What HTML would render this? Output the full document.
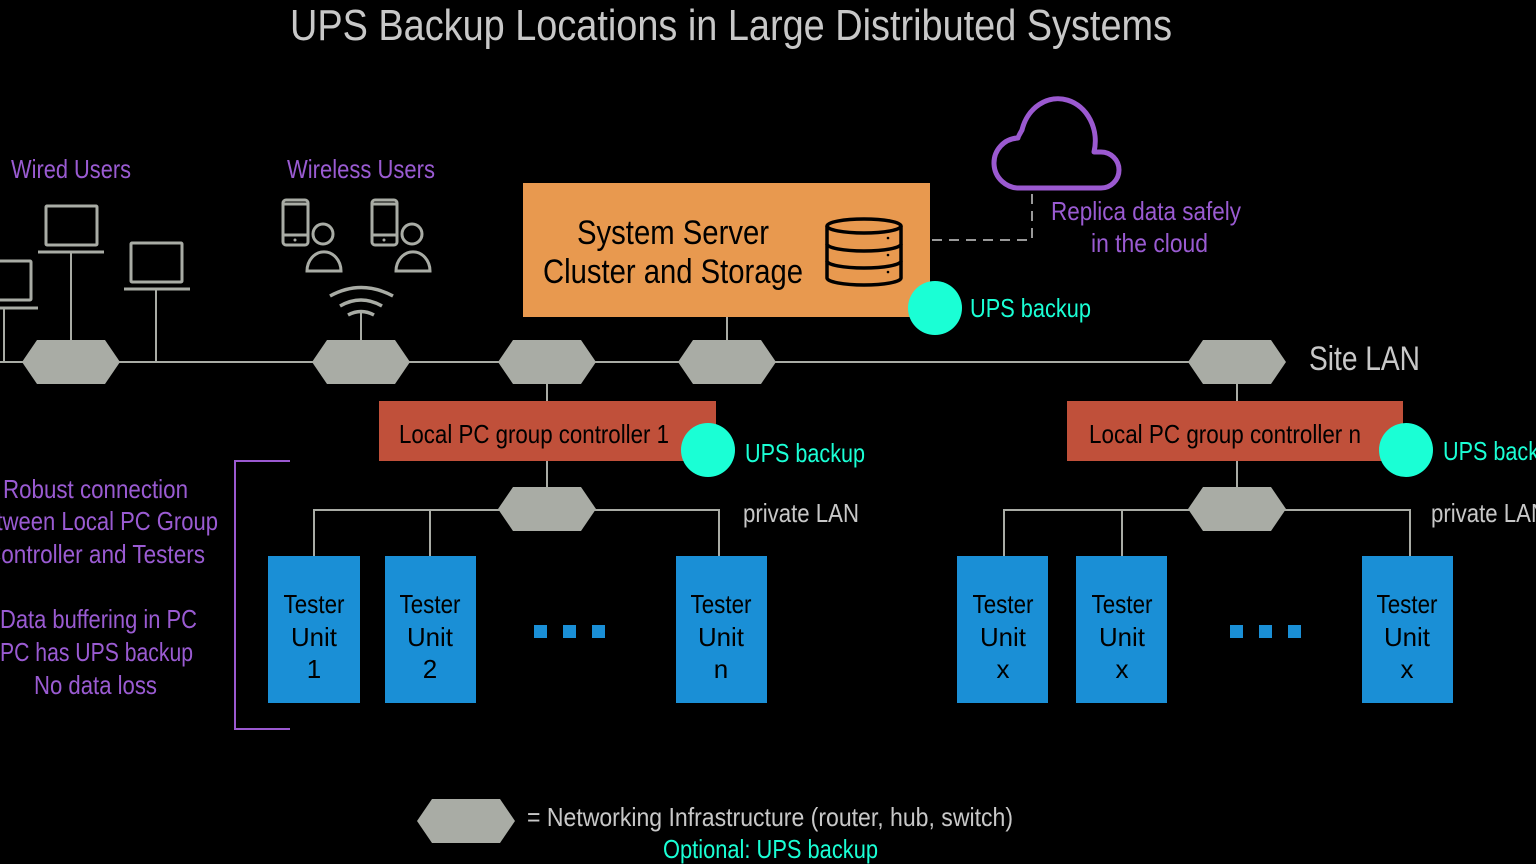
<!DOCTYPE html>
<html><head><meta charset="utf-8"><style>
html,body{margin:0;padding:0;background:#000;width:1536px;height:864px;overflow:hidden}
svg{display:block}
text{font-family:"Liberation Sans Narrow","Liberation Sans",sans-serif}
</style></head><body>
<svg width="1536" height="864" viewBox="0 0 1536 864" xmlns="http://www.w3.org/2000/svg">
<defs>
<polygon id="hex" points="-49,0 -34,-22 34,-22 49,0 34,22 -34,22" fill="#a9aca5"/>
</defs>
<rect width="1536" height="864" fill="#000"/>
<text x="290" y="40" font-size="44" fill="#c8c8c8" textLength="882" lengthAdjust="spacingAndGlyphs">UPS Backup Locations in Large Distributed Systems</text>

<g stroke="#a9aca5" stroke-width="2" fill="none">
<line x1="0" y1="362" x2="1240" y2="362"/>
<line x1="727" y1="317" x2="727" y2="362"/>
<line x1="4" y1="308" x2="4" y2="362"/>
<line x1="71" y1="252" x2="71" y2="362"/>
<line x1="156" y1="289" x2="156" y2="362"/>
<line x1="361" y1="312" x2="361" y2="362"/>
<line x1="547" y1="362" x2="547" y2="510"/>
<line x1="1237" y1="362" x2="1237" y2="510"/>
<polyline points="314,556 314,510 719,510 719,556"/>
<line x1="430" y1="510" x2="430" y2="556"/>
<polyline points="1004,556 1004,510 1410,510 1410,556"/>
<line x1="1122" y1="510" x2="1122" y2="556"/>
</g>
<g stroke="#a9aca5" stroke-width="3" fill="none">
<rect x="-20" y="261" width="51" height="39" rx="1"/>
<line x1="-20" y1="308" x2="38" y2="308"/>
<rect x="46" y="206" width="51" height="39" rx="1"/>
<line x1="38" y1="252" x2="104" y2="252"/>
<rect x="131" y="243" width="51" height="39" rx="1"/>
<line x1="124" y1="289" x2="190" y2="289"/>
<rect x="283" y="200" width="25" height="45" rx="3"/><line x1="283" y1="204" x2="308" y2="204"/><line x1="283" y1="235" x2="308" y2="235"/>
<circle cx="323" cy="234" r="10"/><path d="M307,271 a16,18 0 0 1 34,0 z"/>
<rect x="372" y="200" width="25" height="45" rx="3"/><line x1="372" y1="204" x2="397" y2="204"/><line x1="372" y1="235" x2="397" y2="235"/>
<circle cx="412" cy="234" r="10"/><path d="M396,271 a16,18 0 0 1 34,0 z"/>
<path d="M330,296 q31,-17 63,0" stroke-width="3.5"/>
<path d="M340,306 q21,-12 42,0" stroke-width="3.5"/>
<path d="M348,315 q13,-7 26,0" stroke-width="3.5"/>
</g>
<circle cx="295" cy="240" r="1.5" fill="#a9aca5"/><circle cx="384" cy="240" r="1.5" fill="#a9aca5"/>

<use href="#hex" x="71" y="362"/><use href="#hex" x="361" y="362"/><use href="#hex" x="547" y="362"/>
<use href="#hex" x="727" y="362"/><use href="#hex" x="1237" y="362"/>
<use href="#hex" x="547" y="509"/><use href="#hex" x="1237" y="509"/><use href="#hex" x="466" y="821"/>

<text x="11" y="178" font-size="26" fill="#9a5bd2" textLength="120" lengthAdjust="spacingAndGlyphs">Wired Users</text>
<text x="287" y="178" font-size="26" fill="#9a5bd2" textLength="148" lengthAdjust="spacingAndGlyphs">Wireless Users</text>

<rect x="523" y="183" width="407" height="134" fill="#e8994f"/>
<text x="577" y="244" font-size="34" fill="#000" textLength="192" lengthAdjust="spacingAndGlyphs">System Server</text>
<text x="543" y="283" font-size="34" fill="#000" textLength="260" lengthAdjust="spacingAndGlyphs">Cluster and Storage</text>
<g stroke="#000" stroke-width="3.5" fill="none">
<ellipse cx="864" cy="226" rx="37" ry="7"/>
<path d="M827,226 v52 a37,7 0 0 0 74,0 v-52"/>
<path d="M827,244 a37,7 0 0 0 74,0"/><path d="M827,261 a37,7 0 0 0 74,0"/>
</g>
<circle cx="888" cy="238" r="1.3" fill="#000"/><circle cx="888" cy="255" r="1.3" fill="#000"/><circle cx="888" cy="272" r="1.3" fill="#000"/>
<polyline points="932,240 1032,240 1032,193" stroke="#999" stroke-width="2" fill="none" stroke-dasharray="10,7"/>
<path d="M1020,188 H1101 A18,18 0 0 0 1101,152 H1094 A37,42 0 0 0 1022,130 Q1018,137 1018,138 A25,25 0 0 0 1020,188 Z" stroke="#9b59d0" stroke-width="5" fill="none" stroke-linejoin="round"/>
<text x="1051" y="220" font-size="26" fill="#9a5bd2" textLength="190" lengthAdjust="spacingAndGlyphs">Replica data safely</text>
<text x="1091" y="252" font-size="26" fill="#9a5bd2" textLength="117" lengthAdjust="spacingAndGlyphs">in the cloud</text>
<circle cx="935" cy="308" r="27" fill="#1affd5"/>
<text x="970" y="317" font-size="26" fill="#1affd5" textLength="121" lengthAdjust="spacingAndGlyphs">UPS backup</text>
<text x="1309" y="370" font-size="34" fill="#c8c8c8" textLength="111" lengthAdjust="spacingAndGlyphs">Site LAN</text>

<rect x="379" y="401" width="337" height="60" fill="#c0503a"/>
<text x="399" y="443" font-size="26" fill="#000" textLength="270" lengthAdjust="spacingAndGlyphs">Local PC group controller 1</text>
<circle cx="708" cy="450" r="27" fill="#1affd5"/>
<text x="745" y="462" font-size="26" fill="#1affd5" textLength="120" lengthAdjust="spacingAndGlyphs">UPS backup</text>
<text x="743" y="522" font-size="26" fill="#c8c8c8" textLength="116" lengthAdjust="spacingAndGlyphs">private LAN</text>

<rect x="1067" y="401" width="336" height="60" fill="#c0503a"/>
<text x="1089" y="443" font-size="26" fill="#000" textLength="272" lengthAdjust="spacingAndGlyphs">Local PC group controller n</text>
<circle cx="1406" cy="450" r="27" fill="#1affd5"/>
<text x="1443" y="460" font-size="26" fill="#1affd5" textLength="120" lengthAdjust="spacingAndGlyphs">UPS backup</text>
<text x="1431" y="522" font-size="26" fill="#c8c8c8" textLength="116" lengthAdjust="spacingAndGlyphs">private LAN</text>

<g fill="#1a8fd6">
<rect x="268" y="556" width="92" height="147"/><rect x="385" y="556" width="91" height="147"/><rect x="676" y="556" width="91" height="147"/>
<rect x="957" y="556" width="91" height="147"/><rect x="1076" y="556" width="91" height="147"/><rect x="1362" y="556" width="91" height="147"/>
<rect x="534" y="625" width="13" height="13"/><rect x="563" y="625" width="13" height="13"/><rect x="592" y="625" width="13" height="13"/>
<rect x="1230" y="625" width="13" height="13"/><rect x="1259" y="625" width="13" height="13"/><rect x="1288" y="625" width="13" height="13"/>
</g>
<g font-size="26" fill="#000" text-anchor="middle">
<text x="314" y="613" textLength="61" lengthAdjust="spacingAndGlyphs">Tester</text><text x="314" y="646" textLength="46" lengthAdjust="spacingAndGlyphs">Unit</text><text x="314" y="678">1</text>
<text x="430" y="613" textLength="61" lengthAdjust="spacingAndGlyphs">Tester</text><text x="430" y="646" textLength="46" lengthAdjust="spacingAndGlyphs">Unit</text><text x="430" y="678">2</text>
<text x="721" y="613" textLength="61" lengthAdjust="spacingAndGlyphs">Tester</text><text x="721" y="646" textLength="46" lengthAdjust="spacingAndGlyphs">Unit</text><text x="721" y="678">n</text>
<text x="1003" y="613" textLength="61" lengthAdjust="spacingAndGlyphs">Tester</text><text x="1003" y="646" textLength="46" lengthAdjust="spacingAndGlyphs">Unit</text><text x="1003" y="678">x</text>
<text x="1122" y="613" textLength="61" lengthAdjust="spacingAndGlyphs">Tester</text><text x="1122" y="646" textLength="46" lengthAdjust="spacingAndGlyphs">Unit</text><text x="1122" y="678">x</text>
<text x="1407" y="613" textLength="61" lengthAdjust="spacingAndGlyphs">Tester</text><text x="1407" y="646" textLength="46" lengthAdjust="spacingAndGlyphs">Unit</text><text x="1407" y="678">x</text>
</g>

<polyline points="290,461 235,461 235,729 290,729" stroke="#9b59d0" stroke-width="2" fill="none"/>
<g font-size="26" fill="#9a5bd2">
<text x="3" y="498" textLength="185" lengthAdjust="spacingAndGlyphs">Robust connection</text>
<text x="-28" y="530" textLength="246" lengthAdjust="spacingAndGlyphs">between Local PC Group</text>
<text x="-15" y="563" textLength="220" lengthAdjust="spacingAndGlyphs">Controller and Testers</text>
<text x="0" y="628" textLength="197" lengthAdjust="spacingAndGlyphs">Data buffering in PC</text>
<text x="0" y="661" textLength="193" lengthAdjust="spacingAndGlyphs">PC has UPS backup</text>
<text x="34" y="694" textLength="123" lengthAdjust="spacingAndGlyphs">No data loss</text>
</g>

<text x="527" y="826" font-size="26" fill="#c8c8c8" textLength="486" lengthAdjust="spacingAndGlyphs">= Networking Infrastructure (router, hub, switch)</text>
<text x="663" y="858" font-size="26" fill="#1affd5" textLength="215" lengthAdjust="spacingAndGlyphs">Optional: UPS backup</text>
</svg>
</body></html>
